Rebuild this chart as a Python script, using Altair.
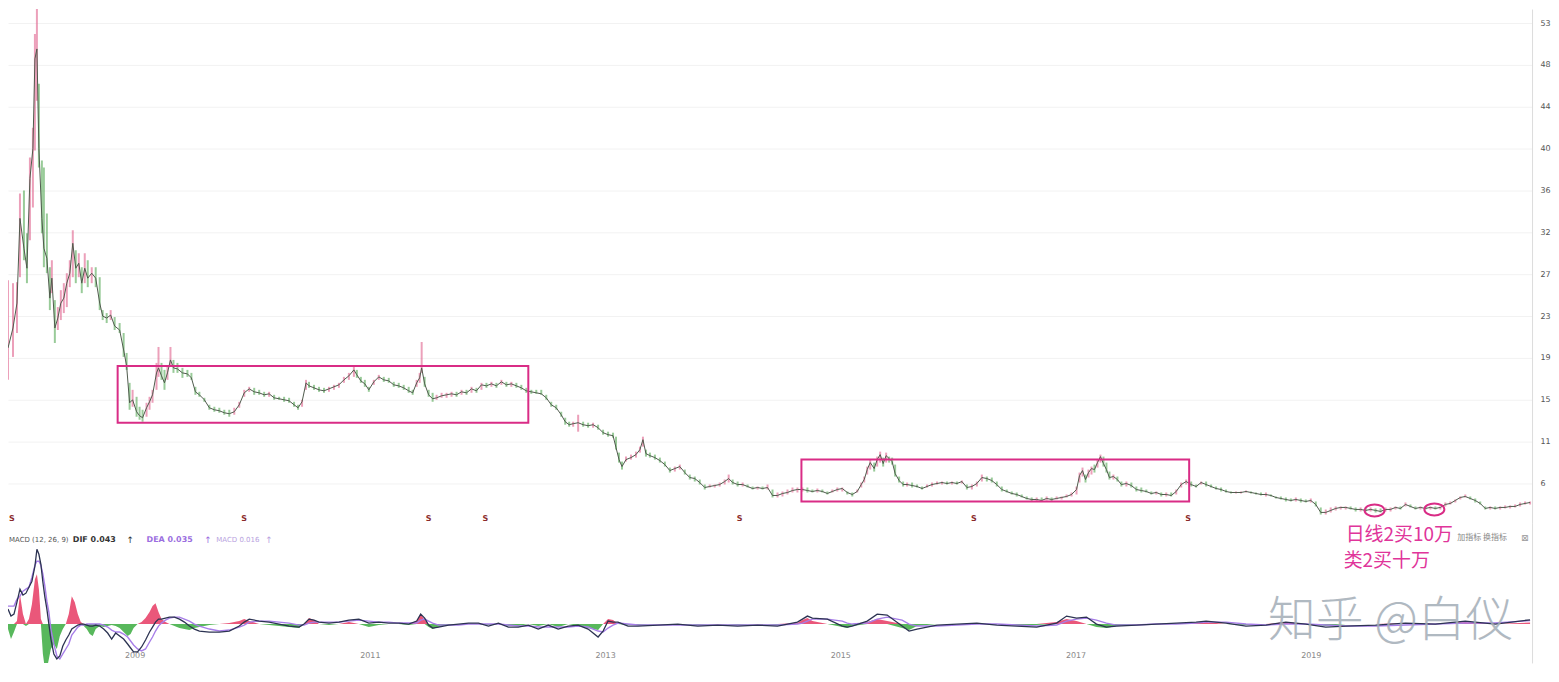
import altair as alt
import pandas as pd

# ---------------- price (weekly candles) ----------------
t = [8, 13, 17, 20, 24, 27, 30, 33, 35, 37,
     39, 42, 44, 47, 50, 52, 55, 58, 61, 64,
     67, 70, 73, 76, 79, 82, 85, 88, 92, 96,
     100, 103, 107, 111, 115, 120, 124, 127, 130, 133,
     137, 140, 143, 147, 150, 153, 157, 159, 162, 165,
     168, 171, 174, 178, 183, 188, 192, 196, 200, 205,
     210, 215, 220, 225, 230, 235, 240, 245, 250, 255,
     260, 265, 270, 275, 280, 285, 290, 295, 299, 303,
     307, 310, 315, 320, 325, 330, 335, 340, 345, 350,
     355, 358, 362, 366, 370, 375, 380, 385, 390, 395,
     400, 405, 410, 414, 418, 421, 423, 426, 430, 434,
     438, 443, 448, 453, 458, 463, 468, 473, 478, 483,
     488, 493, 498, 503, 508, 513, 518, 523, 528, 533,
     538, 543, 548, 553, 558, 563, 567, 571, 575, 580,
     585, 590, 595, 600, 605, 610, 615, 618, 621, 624,
     628, 633, 638, 642, 645, 648, 652, 657, 662, 667,
     672, 677, 682, 687, 692, 697, 702, 707, 712, 717,
     722, 727, 731, 735, 740, 745, 750, 755, 760, 765,
     770, 775, 780, 785, 790, 795, 800, 805, 810, 815,
     820, 825, 830, 835, 840, 845, 850, 855, 860, 864,
     867, 870, 873, 877, 880, 883, 886, 889, 892, 895,
     898, 902, 906, 910, 915, 920, 925, 930, 935, 940,
     945, 950, 955, 960, 965, 970, 975, 980, 985, 990,
     995, 1000, 1005, 1010, 1015, 1020, 1025, 1030, 1035, 1040,
     1045, 1050, 1055, 1060, 1065, 1070, 1075, 1080, 1083, 1086,
     1089, 1092, 1095, 1098, 1101, 1104, 1107, 1110, 1113, 1117,
     1121, 1125, 1130, 1135, 1140, 1145, 1150, 1155, 1160, 1165,
     1170, 1175, 1180, 1185, 1190, 1195, 1200, 1205, 1210, 1215,
     1220, 1225, 1230, 1235, 1240, 1245, 1250, 1255, 1260, 1265,
     1270, 1275, 1280, 1285, 1290, 1295, 1300, 1305, 1310, 1315,
     1320, 1325, 1330, 1335, 1340, 1345, 1350, 1355, 1360, 1365,
     1370, 1375, 1380, 1385, 1390, 1395, 1400, 1405, 1410, 1415,
     1420, 1425, 1430, 1435, 1440, 1445, 1450, 1455, 1460, 1465,
     1470, 1475, 1480, 1485, 1490, 1495, 1500, 1505, 1510, 1515,
     1520, 1525, 1530, 1535]

hi = [26.8, 26.5, 26.6, 35.5, 35.8, 31.5, 39.1, 42.1, 51.5, 58.0,
      46.5, 38.8, 38.1, 33.5, 28.1, 28.8, 24.8, 24.1, 25.8, 26.5,
      27.5, 28.8, 31.8, 29.8, 29.5, 28.1, 29.5, 28.8, 28.1, 28.1,
      27.1, 23.8, 23.5, 23.8, 23.1, 22.5, 21.5, 19.5, 16.5, 15.8,
      15.1, 14.1, 13.8, 14.5, 15.1, 15.8, 18.5, 20.1, 18.5, 17.8,
      18.1, 20.1, 18.8, 18.5, 18.0, 17.8, 17.5, 16.1, 15.6, 15.0,
      14.3, 14.1, 14.0, 13.8, 13.8, 14.0, 14.6, 15.8, 16.1, 16.0,
      15.8, 15.6, 15.6, 15.3, 15.1, 15.1, 15.0, 14.6, 14.3, 14.8,
      16.8, 16.6, 16.3, 16.1, 16.0, 16.1, 16.3, 16.5, 17.1, 17.5,
      18.1, 17.8, 17.1, 16.8, 16.1, 16.8, 17.3, 17.1, 17.0, 16.6,
      16.5, 16.3, 16.1, 15.8, 16.8, 17.5, 20.6, 17.1, 15.8, 15.5,
      15.3, 15.5, 15.5, 15.6, 15.6, 15.8, 15.8, 16.1, 16.0, 16.5,
      16.5, 16.6, 16.5, 16.8, 16.6, 16.6, 16.5, 16.3, 16.0, 15.8,
      15.8, 15.8, 15.3, 14.6, 14.3, 13.6, 13.0, 12.6, 12.6, 13.3,
      12.6, 12.5, 12.5, 12.3, 11.8, 11.6, 11.5, 11.1, 9.5, 8.6,
      9.1, 9.3, 9.6, 10.1, 11.1, 9.8, 9.5, 9.3, 9.0, 8.6,
      8.0, 8.1, 8.3, 7.8, 7.3, 7.1, 6.8, 6.3, 6.3, 6.3,
      6.5, 6.8, 7.3, 6.8, 6.6, 6.5, 6.3, 6.1, 6.1, 6.1,
      6.3, 5.8, 5.5, 5.6, 5.8, 6.0, 6.0, 6.0, 6.0, 5.8,
      5.9, 5.8, 5.6, 5.8, 6.0, 6.0, 5.6, 5.5, 5.8, 6.5,
      7.1, 8.1, 8.8, 8.5, 9.1, 9.6, 9.0, 9.5, 9.1, 9.0,
      8.3, 7.1, 6.6, 6.5, 6.5, 6.3, 6.1, 6.3, 6.5, 6.6,
      6.6, 6.6, 6.6, 6.6, 6.7, 6.3, 6.3, 6.6, 7.3, 7.1,
      7.0, 6.6, 6.1, 5.8, 5.6, 5.5, 5.3, 5.1, 5.0, 5.0,
      5.0, 5.1, 5.0, 5.1, 5.1, 5.3, 5.5, 6.1, 7.5, 8.0,
      7.3, 7.8, 8.1, 8.3, 8.8, 9.3, 9.1, 8.5, 7.6, 7.3,
      7.1, 6.6, 6.6, 6.5, 6.1, 6.0, 5.8, 5.6, 5.6, 5.5,
      5.5, 5.5, 5.8, 6.5, 6.8, 6.6, 6.3, 6.6, 6.6, 6.3,
      6.1, 6.0, 5.8, 5.6, 5.6, 5.6, 5.7, 5.6, 5.5, 5.5,
      5.5, 5.3, 5.1, 5.1, 5.0, 4.9, 5.0, 4.9, 4.8, 4.9,
      4.6, 4.0, 3.8, 4.0, 4.1, 4.1, 4.1, 4.1, 4.0, 4.0,
      4.0, 4.0, 3.9, 3.9, 4.0, 4.0, 4.1, 4.1, 4.5, 4.3,
      4.1, 4.1, 4.1, 4.1, 4.1, 4.1, 4.5, 4.6, 4.8, 5.1,
      5.3, 5.1, 4.9, 4.6, 4.1, 4.1, 4.1, 4.1, 4.2, 4.2,
      4.3, 4.5, 4.6, 4.6]

lo = [16.8, 19.1, 21.5, 27.1, 28.8, 26.5, 30.8, 34.1, 39.8, 44.8,
      38.1, 31.5, 28.1, 27.5, 23.8, 25.5, 20.5, 21.8, 22.8, 23.5,
      24.1, 26.1, 27.1, 26.5, 27.1, 25.5, 26.5, 26.1, 26.5, 26.1,
      23.8, 22.8, 22.5, 22.8, 21.8, 21.5, 19.1, 17.8, 13.8, 14.1,
      13.1, 12.8, 12.6, 13.1, 13.8, 14.5, 15.8, 17.1, 16.8, 15.8,
      16.8, 18.1, 17.5, 17.5, 17.0, 17.1, 16.8, 15.3, 15.1, 14.6,
      13.8, 13.6, 13.5, 13.3, 13.1, 13.3, 14.0, 15.1, 15.6, 15.3,
      15.3, 15.1, 15.1, 14.8, 14.8, 14.6, 14.5, 14.1, 13.8, 14.1,
      15.8, 16.0, 15.8, 15.6, 15.5, 15.6, 15.8, 16.0, 16.5, 16.8,
      17.1, 17.0, 16.5, 16.1, 15.6, 16.3, 16.8, 16.6, 16.5, 16.1,
      16.0, 15.8, 15.5, 15.3, 16.1, 16.5, 17.5, 16.1, 15.1, 14.6,
      14.8, 15.0, 15.0, 15.1, 15.1, 15.3, 15.3, 15.5, 15.5, 15.8,
      16.0, 16.1, 16.0, 16.3, 16.1, 16.1, 16.0, 15.8, 15.5, 15.4,
      15.4, 15.3, 14.8, 14.1, 13.8, 13.1, 12.3, 12.1, 12.1, 11.6,
      12.1, 12.0, 12.0, 11.8, 11.3, 11.1, 11.0, 9.8, 8.5, 7.8,
      8.6, 8.8, 9.0, 9.5, 10.1, 9.1, 9.0, 8.8, 8.5, 8.1,
      7.5, 7.6, 7.8, 7.3, 6.8, 6.6, 6.3, 5.8, 6.0, 6.0,
      6.1, 6.3, 6.5, 6.3, 6.1, 6.1, 6.0, 5.8, 5.8, 5.8,
      5.8, 5.0, 5.0, 5.1, 5.3, 5.5, 5.5, 5.6, 5.5, 5.5,
      5.5, 5.5, 5.3, 5.5, 5.6, 5.6, 5.3, 5.1, 5.5, 6.0,
      6.5, 7.3, 7.8, 7.6, 8.1, 8.5, 8.1, 8.5, 8.5, 8.3,
      7.1, 6.5, 6.1, 6.1, 6.0, 6.0, 5.8, 6.0, 6.1, 6.3,
      6.3, 6.3, 6.3, 6.3, 6.4, 5.8, 5.8, 6.1, 6.6, 6.6,
      6.5, 6.1, 5.6, 5.5, 5.3, 5.1, 5.0, 4.8, 4.6, 4.6,
      4.6, 4.7, 4.6, 4.8, 4.8, 5.0, 5.1, 5.3, 6.5, 7.1,
      6.5, 7.0, 7.3, 7.5, 8.0, 8.5, 8.1, 7.5, 6.8, 6.8,
      6.6, 6.1, 6.1, 6.0, 5.6, 5.5, 5.5, 5.3, 5.3, 5.1,
      5.1, 5.1, 5.3, 6.0, 6.3, 6.1, 6.0, 6.3, 6.1, 6.0,
      5.8, 5.6, 5.5, 5.4, 5.4, 5.4, 5.5, 5.4, 5.3, 5.2,
      5.1, 5.1, 4.9, 4.8, 4.6, 4.6, 4.6, 4.5, 4.5, 4.5,
      4.1, 3.3, 3.3, 3.5, 3.7, 3.8, 3.8, 3.8, 3.6, 3.6,
      3.6, 3.6, 3.5, 3.5, 3.6, 3.6, 3.8, 3.8, 4.1, 4.0,
      3.8, 3.8, 3.8, 3.8, 3.8, 3.8, 4.1, 4.3, 4.5, 4.8,
      5.0, 4.8, 4.5, 4.3, 3.8, 3.8, 3.8, 3.8, 3.9, 3.9,
      4.0, 4.1, 4.3, 4.3]

close = [20.0, 22.0, 24.5, 33.0, 30.0, 28.0, 37.0, 40.0, 49.0, 50.0,
         40.0, 33.0, 30.0, 29.0, 25.0, 27.0, 22.0, 23.0, 24.5, 25.0,
         26.5, 27.5, 30.5, 28.0, 28.5, 26.5, 28.0, 27.0, 27.5, 27.0,
         24.5, 23.2, 23.0, 23.3, 22.2, 21.8, 19.8, 18.2, 14.5, 14.8,
         13.6, 13.2, 13.0, 14.0, 14.6, 15.3, 17.5, 18.0, 17.2, 16.5,
         17.5, 18.8, 18.0, 17.9, 17.5, 17.4, 17.0, 15.6, 15.3, 14.8,
         14.0, 13.8, 13.7, 13.5, 13.4, 13.6, 14.3, 15.5, 15.9, 15.6,
         15.5, 15.3, 15.4, 15.0, 14.9, 14.8, 14.7, 14.3, 14.0, 14.6,
         16.5, 16.2, 16.0, 15.8, 15.7, 15.9, 16.1, 16.3, 16.8, 17.2,
         17.8, 17.3, 16.7, 16.4, 15.8, 16.6, 17.1, 16.8, 16.7, 16.3,
         16.2, 16.0, 15.7, 15.5, 16.5, 17.0, 18.0, 16.4, 15.3, 14.9,
         15.0, 15.2, 15.3, 15.4, 15.3, 15.6, 15.5, 15.9, 15.7, 16.3,
         16.2, 16.4, 16.2, 16.6, 16.3, 16.4, 16.2, 16.0, 15.7, 15.6,
         15.5, 15.4, 15.0, 14.3, 14.0, 13.3, 12.6, 12.3, 12.4, 12.5,
         12.3, 12.2, 12.3, 12.0, 11.5, 11.3, 11.2, 10.0, 8.8, 8.1,
         8.8, 9.0, 9.3, 9.8, 10.8, 9.4, 9.2, 9.0, 8.7, 8.3,
         7.7, 7.9, 8.1, 7.5, 7.0, 6.9, 6.5, 6.0, 6.1, 6.2,
         6.3, 6.6, 6.9, 6.5, 6.3, 6.3, 6.1, 5.9, 6.0, 5.9,
         6.0, 5.2, 5.2, 5.4, 5.5, 5.7, 5.8, 5.8, 5.7, 5.6,
         5.7, 5.6, 5.4, 5.6, 5.8, 5.9, 5.5, 5.3, 5.6, 6.3,
         6.8, 7.8, 8.5, 7.9, 8.8, 9.3, 8.4, 9.2, 8.9, 8.6,
         7.4, 6.7, 6.3, 6.3, 6.2, 6.1, 5.9, 6.1, 6.3, 6.4,
         6.5, 6.4, 6.5, 6.4, 6.6, 6.0, 6.1, 6.4, 7.0, 6.9,
         6.7, 6.3, 5.8, 5.6, 5.4, 5.3, 5.1, 4.9, 4.8, 4.8,
         4.7, 4.9, 4.8, 4.9, 5.0, 5.1, 5.3, 5.8, 7.2, 7.7,
         6.8, 7.5, 7.9, 7.8, 8.5, 9.1, 8.4, 7.8, 7.0, 7.1,
         6.8, 6.3, 6.4, 6.2, 5.8, 5.7, 5.6, 5.4, 5.5, 5.3,
         5.3, 5.2, 5.6, 6.3, 6.6, 6.3, 6.1, 6.5, 6.3, 6.1,
         5.9, 5.8, 5.6, 5.5, 5.5, 5.5, 5.6, 5.5, 5.4, 5.3,
         5.3, 5.2, 5.0, 4.9, 4.8, 4.7, 4.8, 4.7, 4.6, 4.7,
         4.3, 3.5, 3.5, 3.7, 3.9, 4.0, 4.0, 3.9, 3.8, 3.8,
         3.7, 3.8, 3.7, 3.6, 3.8, 3.8, 4.0, 3.9, 4.3, 4.1,
         3.9, 4.0, 3.9, 4.0, 3.9, 4.0, 4.3, 4.4, 4.7, 5.0,
         5.1, 4.9, 4.7, 4.4, 3.9, 4.0, 3.9, 4.0, 4.0, 4.1,
         4.1, 4.3, 4.4, 4.5]

# ---------------- MACD (12, 26, 9) ----------------
macd_t = [8, 11, 14, 17, 20, 23, 26, 29, 32, 35,
          37, 39, 41, 43, 45, 47, 49, 51, 54, 57,
          60, 63, 66, 69, 72, 75, 78, 81, 84, 87,
          90, 93, 96, 100, 104, 108, 112, 116, 120, 124,
          128, 131, 134, 138, 142, 146, 150, 153, 156, 159,
          162, 166, 170, 175, 180, 185, 190, 195, 200, 210,
          220, 230, 240, 245, 250, 260, 270, 280, 290, 300,
          305, 310, 315, 320, 330, 340, 350, 360, 370, 380,
          390, 400, 410, 418, 422, 426, 430, 434, 440, 450,
          460, 470, 480, 490, 500, 510, 520, 530, 540, 550,
          560, 570, 580, 590, 600, 605, 610, 615, 620, 630,
          640, 660, 680, 700, 720, 740, 760, 780, 800, 805,
          810, 815, 830, 845, 850, 855, 870, 880, 890, 905,
          912, 920, 940, 960, 980, 1000, 1020, 1040, 1060, 1070,
          1080, 1090, 1100, 1110, 1120, 1140, 1160, 1180, 1200, 1210,
          1230, 1250, 1270, 1290, 1310, 1330, 1350, 1380, 1410, 1440,
          1470, 1500, 1535]

dif = [0.15, 0.08, 0.10, 0.22, 0.35, 0.29, 0.31, 0.37, 0.43, 0.58,
       0.75, 0.70, 0.60, 0.42, 0.27, 0.15, 0.00, -0.15, -0.30, -0.35,
       -0.32, -0.22, -0.16, -0.11, -0.05, -0.03, -0.01, 0.00, 0.00, -0.01,
       -0.02, -0.02, -0.01, -0.02, -0.05, -0.09, -0.15, -0.09, -0.12, -0.15,
       -0.20, -0.24, -0.28, -0.28, -0.23, -0.16, -0.08, -0.03, 0.02, 0.05,
       0.05, 0.06, 0.07, 0.07, 0.05, 0.02, -0.02, -0.05, -0.07, -0.08,
       -0.08, -0.07, -0.02, 0.02, 0.05, 0.03, 0.02, 0.00, -0.02, -0.03,
       0.00, 0.05, 0.04, 0.02, 0.01, 0.02, 0.04, 0.05, 0.01, 0.02,
       0.01, 0.01, 0.00, 0.03, 0.10, 0.06, -0.01, -0.04, -0.03, -0.01,
       0.00, 0.01, 0.01, -0.02, 0.01, -0.03, -0.03, -0.01, -0.05, -0.01,
       -0.05, -0.02, -0.01, -0.05, -0.13, -0.07, 0.03, 0.02, 0.02, -0.02,
       -0.02, -0.01, 0.00, -0.02, -0.01, -0.02, -0.01, -0.02, 0.02, 0.05,
       0.08, 0.06, 0.05, -0.02, -0.03, -0.02, 0.03, 0.10, 0.09, -0.02,
       -0.07, -0.05, -0.01, 0.00, 0.01, -0.01, -0.02, -0.03, 0.01, 0.08,
       0.06, 0.07, 0.00, -0.03, -0.02, -0.01, 0.00, 0.01, 0.02, 0.03,
       0.01, -0.02, -0.01, 0.02, 0.00, -0.03, -0.02, -0.01, 0.01, 0.00,
       0.03, 0.00, 0.043]

dea = [0.18, 0.18, 0.18, 0.25, 0.28, 0.33, 0.35, 0.37, 0.47, 0.59,
       0.63, 0.63, 0.59, 0.50, 0.38, 0.23, 0.12, -0.05, -0.20, -0.32,
       -0.35, -0.30, -0.25, -0.20, -0.11, -0.07, -0.03, -0.01, -0.01, 0.00,
       0.00, 0.00, 0.00, 0.00, -0.01, -0.03, -0.06, -0.08, -0.08, -0.10,
       -0.13, -0.17, -0.21, -0.25, -0.27, -0.25, -0.18, -0.13, -0.07, -0.02,
       0.01, 0.04, 0.06, 0.07, 0.07, 0.05, 0.03, 0.00, -0.02, -0.05,
       -0.07, -0.06, -0.03, -0.01, 0.02, 0.03, 0.03, 0.02, 0.01, -0.01,
       -0.01, 0.01, 0.02, 0.02, 0.02, 0.02, 0.03, 0.04, 0.03, 0.02,
       0.02, 0.01, 0.01, 0.01, 0.04, 0.05, 0.03, 0.01, -0.01, -0.01,
       -0.01, 0.00, 0.00, 0.00, 0.00, -0.01, -0.02, -0.02, -0.03, -0.03,
       -0.03, -0.03, -0.02, -0.03, -0.07, -0.08, -0.04, -0.01, 0.01, 0.00,
       -0.01, -0.01, -0.01, -0.01, -0.01, -0.01, -0.01, -0.01, 0.00, 0.01,
       0.03, 0.05, 0.05, 0.03, 0.01, 0.00, 0.01, 0.05, 0.07, 0.04,
       0.00, -0.02, -0.02, -0.01, 0.00, 0.00, -0.01, -0.02, -0.01, 0.03,
       0.05, 0.06, 0.04, 0.01, -0.01, -0.01, 0.00, 0.00, 0.01, 0.02,
       0.02, 0.00, -0.01, 0.00, 0.00, -0.01, -0.02, -0.02, -0.01, 0.00,
       0.01, 0.01, 0.035]

hist = [-0.05, -0.15, -0.08, 0.03, 0.30, 0.10, -0.02, 0.05, 0.20, 0.45,
        0.50, 0.35, 0.05, -0.30, -0.45, -0.45, -0.35, -0.25, -0.20, -0.25,
        -0.12, -0.05, 0.00, 0.10, 0.28, 0.22, 0.10, 0.02, -0.02, -0.05,
        -0.10, -0.12, -0.05, -0.02, -0.03, -0.02, -0.01, -0.02, -0.04, -0.08,
        -0.12, -0.10, -0.04, 0.00, 0.02, 0.06, 0.12, 0.18, 0.21, 0.12,
        0.05, 0.02, 0.00, -0.02, -0.04, -0.05, -0.06, -0.04, -0.03, -0.01,
        0.00, 0.01, 0.03, 0.05, 0.03, 0.00, -0.01, -0.02, -0.03, -0.04,
        0.00, 0.06, 0.04, 0.00, -0.01, 0.00, 0.02, 0.00, -0.03, -0.01,
        0.00, 0.00, -0.01, 0.03, 0.10, 0.04, -0.03, -0.05, -0.03, -0.01,
        0.00, 0.00, 0.00, -0.01, 0.00, -0.02, -0.02, 0.00, -0.02, 0.00,
        -0.03, 0.00, -0.02, -0.04, -0.06, 0.00, 0.05, 0.04, 0.00, -0.01,
        -0.01, 0.00, 0.00, -0.01, 0.00, -0.01, 0.00, -0.01, 0.01, 0.04,
        0.06, 0.03, 0.00, -0.03, -0.04, -0.02, 0.02, 0.05, 0.03, -0.04,
        -0.06, -0.02, 0.00, 0.00, 0.00, 0.00, -0.01, -0.01, 0.02, 0.05,
        0.03, 0.00, -0.03, -0.04, -0.02, 0.00, 0.00, 0.00, 0.01, 0.02,
        0.00, -0.01, 0.00, 0.02, 0.00, -0.02, 0.00, 0.00, 0.01, 0.00,
        0.02, 0.00, 0.016]

# ---------------- annotations ----------------
signal_t = [12, 245, 430, 487, 742, 977, 1192]
signal_price = [2.8, 2.8, 2.8, 2.8, 2.8, 2.8, 2.8]

box_t1 = [118, 804]
box_t2 = [530, 1193]
box_top = [18.2, 8.8]
box_bottom = [12.5, 4.6]

ring_t = [1379, 1439]
ring_price = [3.7, 3.8]

x_tick_pos = [135, 371, 607, 843, 1079, 1315]
x_tick_text = ["2009", "2011", "2013", "2015", "2017", "2019"]
price_ticks = [52.6, 48.4, 44.2, 40.0, 35.8, 31.6, 27.4, 23.2, 19.0, 14.8, 10.6, 6.4]

assert len(t) == len(hi) == len(lo) == len(close)
assert len(macd_t) == len(dif) == len(dea) == len(hist)

# ---------------- scales ----------------
XS = alt.Scale(domain=[8, 1537], nice=False, zero=False)
PY = alt.Scale(domain=[2.4, 54.0], nice=False, zero=False)
MY = alt.Scale(domain=[-0.39, 1.01], nice=False, zero=False)

W = 1529
CJK = "Noto Sans CJK SC"
MAG = "#d92c86"

pdf = pd.DataFrame({"t": t, "hi": hi, "lo": lo, "close": close})
pdf["dir"] = ["up" if i == 0 or close[i] >= close[i - 1] else "down" for i in range(len(close))]

price_axis = alt.Axis(orient="right", values=price_ticks, format=".0f", title=None,
                      grid=True, gridColor="#f2f2f2", domain=True, domainColor="#dcdcdc",
                      ticks=False, labelFontSize=8, labelColor="#555", labelPadding=8,
                      labelFont="DejaVu Sans")

candles = alt.Chart(pdf).mark_rule(strokeWidth=2, opacity=0.6, clip=True).encode(
    x=alt.X("t:Q", scale=XS, axis=None),
    y=alt.Y("lo:Q", scale=PY, axis=price_axis),
    y2="hi:Q",
    color=alt.Color("dir:N", scale=alt.Scale(domain=["up", "down"], range=["#e0608c", "#55a855"]),
                    legend=None),
)
pline = alt.Chart(pdf).mark_line(color="#4f5a4c", strokeWidth=1.0, clip=True).encode(
    x=alt.X("t:Q", scale=XS, axis=None),
    y=alt.Y("close:Q", scale=PY, title=None),
)

boxes = alt.Chart(pd.DataFrame({"a": box_t1, "b": box_t2, "top": box_top, "bot": box_bottom})).mark_rect(
    filled=False, stroke=MAG, strokeWidth=2).encode(
    x=alt.X("a:Q", scale=XS, axis=None), x2="b:Q",
    y=alt.Y("bot:Q", scale=PY, title=None), y2="top:Q",
)

ELLIPSE = "M-1,0A1,0.6,0,1,1,1,0A1,0.6,0,1,1,-1,0Z"
rings = alt.Chart(pd.DataFrame({"t": ring_t, "p": ring_price})).mark_point(
    shape=ELLIPSE, size=400, filled=False, stroke=MAG, strokeWidth=2, opacity=1).encode(
    x=alt.X("t:Q", scale=XS, axis=None),
    y=alt.Y("p:Q", scale=PY, title=None),
)

signals = alt.Chart(pd.DataFrame({"t": signal_t, "p": signal_price})).mark_text(
    text="S", fontSize=8, fontWeight="bold", color="#8a2a2a", font="DejaVu Sans").encode(
    x=alt.X("t:Q", scale=XS, axis=None),
    y=alt.Y("p:Q", scale=PY, title=None),
)

price = alt.layer(candles, pline, boxes, rings, signals).properties(width=W, height=516)

# ---------------- MACD panel ----------------
mdf = pd.DataFrame({"t": macd_t, "dif": dif, "dea": dea, "hist": hist})

label_expr = ""
for p, s in zip(x_tick_pos, x_tick_text):
    label_expr += f"datum.value == {p} ? '{s}' : "
label_expr += "''"

x_axis = alt.Axis(values=x_tick_pos, labelExpr=label_expr, offset=-11, domain=False, ticks=False,
                  grid=False, labelFontSize=8, labelColor="#888", labelPadding=0, title=None,
                  labelFont="DejaVu Sans")

macd_axis = alt.Axis(orient="right", labels=False, ticks=False, grid=False, domain=True,
                     domainColor="#dcdcdc", title=None)

XM = alt.X("t:Q", scale=XS, title=None)

mbase = alt.Chart(mdf).transform_calculate(
    pos="max(datum.hist, 0)", neg="min(datum.hist, 0)")

red = mbase.mark_area(color="#e8456b", opacity=0.9, clip=True).encode(
    x=alt.X("t:Q", scale=XS, axis=x_axis),
    y=alt.Y("pos:Q", scale=MY, axis=macd_axis),
    y2=alt.datum(0),
)
green = mbase.mark_area(color="#46b04a", opacity=0.9, clip=True).encode(
    x=XM,
    y=alt.Y("neg:Q", scale=MY, title=None),
    y2=alt.datum(0),
)
dea_line = alt.Chart(mdf).mark_line(color="#a77ee8", strokeWidth=1.4, clip=True).encode(
    x=XM,
    y=alt.Y("dea:Q", scale=MY, title=None),
)
dif_line = alt.Chart(mdf).mark_line(color="#2c3352", strokeWidth=1.3, clip=True).encode(
    x=XM,
    y=alt.Y("dif:Q", scale=MY, title=None),
)


def note(x, y, txt, **style):
    return alt.Chart(pd.DataFrame({"x": [x], "y": [y], "txt": [txt]})).mark_text(
        align="left", baseline="middle", **style).encode(
        x=alt.X("x:Q", scale=XS, title=None),
        y=alt.Y("y:Q", scale=MY, title=None),
        text="txt:N",
    )


notes = [
    note(9, 0.84, "MACD (12, 26, 9)", fontSize=7, color="#555", font="DejaVu Sans"),
    note(73, 0.84, "DIF 0.043", fontSize=8, fontWeight="bold", color="#333", font="DejaVu Sans"),
    note(127, 0.84, "↑", fontSize=9, color="#333", font="DejaVu Sans"),
    note(147, 0.84, "DEA 0.035", fontSize=8, fontWeight="bold", color="#9b6ee0", font="DejaVu Sans"),
    note(205, 0.84, "↑", fontSize=9, color="#9b6ee0", font="DejaVu Sans"),
    note(217, 0.84, "MACD 0.016", fontSize=7, color="#b9a3e0", font="DejaVu Sans"),
    note(266, 0.84, "↑", fontSize=9, color="#b9a3e0", font="DejaVu Sans"),
    note(1462, 0.86, "加指标  换指标", fontSize=8, color="#888", font=CJK),
    note(1526, 0.86, "⊠", fontSize=9, color="#999", font="DejaVu Sans"),
    note(1272, 0.02, "知乎 @白仪", fontSize=48, color="#a3adb7", opacity=0.85, font=CJK,
         fontWeight=300),
    note(1350, 0.89, "日线2买10万", fontSize=19, color="#e0359a", font=CJK),
    note(1348, 0.63, "类2买十万", fontSize=19, color="#e0359a", font=CJK),
]

macd = alt.layer(red, green, dea_line, dif_line, *notes).properties(width=W, height=140)

chart = alt.vconcat(price, macd, spacing=0).properties(padding=0).configure_view(stroke=None)

chart.save("out.html", embed_options={"renderer": "svg", "actions": False})
